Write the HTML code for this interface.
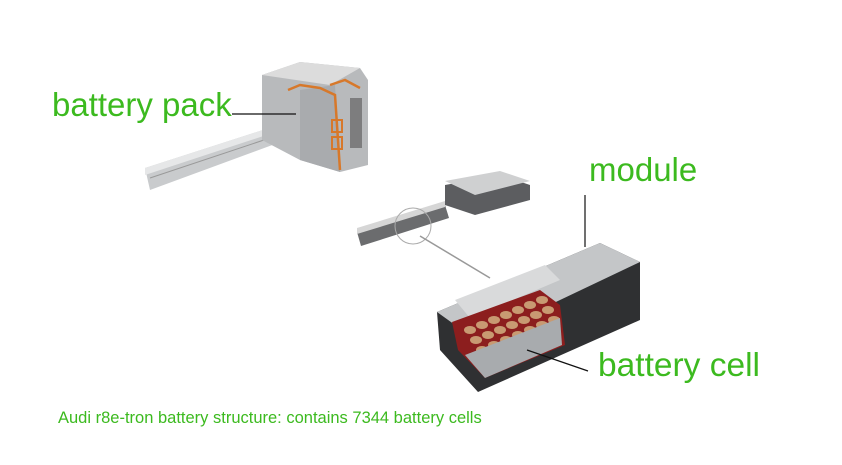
<!DOCTYPE html>
<html><head><style>
body{margin:0;background:#fff;width:842px;height:465px;overflow:hidden;position:relative;font-family:"Liberation Sans",sans-serif}
.t{position:absolute;color:#3cba1f;white-space:nowrap}
</style></head><body>
<svg width="842" height="465" style="position:absolute;left:0;top:0">
<polygon points="145,168 300,118 305,133 150,190" fill="#c9cbcd"/>
<polygon points="145,168 300,118 300,124 145,175" fill="#e6e7e8"/>
<line x1="150" y1="178" x2="300" y2="128" stroke="#999" stroke-width="1"/>
<polygon points="262,75 300,62 360,68 368,80 368,165 340,172 300,160 262,140" fill="#b8babc"/>
<polygon points="262,75 300,62 360,68 330,85" fill="#dcdcdc"/>
<polygon points="300,90 335,85 340,172 300,160" fill="#a9abae"/>
<polyline points="288,90 300,85 320,88 335,95 340,170" fill="none" stroke="#d7782a" stroke-width="2.5"/>
<polyline points="330,85 345,80 360,88" fill="none" stroke="#d7782a" stroke-width="2.5"/>
<rect x="332" y="120" width="10" height="12" fill="none" stroke="#d7782a" stroke-width="2"/>
<rect x="332" y="137" width="10" height="12" fill="none" stroke="#d7782a" stroke-width="2"/>
<rect x="350" y="98" width="12" height="50" fill="#555" opacity=".6"/>
<line x1="232" y1="114" x2="296" y2="114" stroke="#111" stroke-width="1.2"/>
<polygon points="357,232 445,205 449,218 361,246" fill="#6b6c6e"/>
<polygon points="357,228 445,201 445,207 357,234" fill="#d6d6d6"/>
<polygon points="445,185 500,175 530,185 530,200 475,215 445,205" fill="#5c5d60"/>
<polygon points="445,181 500,171 530,181 475,195" fill="#cfd0d1"/>
<circle cx="413" cy="226" r="18" fill="none" stroke="#aaa" stroke-width="1"/>
<line x1="420" y1="236" x2="490" y2="278" stroke="#999" stroke-width="1.5"/>
<polygon points="437,312 600,243 640,262 640,320 478,392 440,350" fill="#2f3032"/>
<polygon points="437,312 600,243 640,262 476,340" fill="#c4c6c8"/>
<polygon points="455,300 545,265 560,280 470,318" fill="#d9dadb"/>
<polygon points="452,322 540,290 560,305 565,345 485,378 458,350" fill="#8c1e1e"/>
<g fill="#c89a72">
<ellipse cx="470" cy="330" rx="6" ry="4"/><ellipse cx="482" cy="325" rx="6" ry="4"/><ellipse cx="494" cy="320" rx="6" ry="4"/><ellipse cx="506" cy="315" rx="6" ry="4"/><ellipse cx="518" cy="310" rx="6" ry="4"/><ellipse cx="530" cy="305" rx="6" ry="4"/><ellipse cx="542" cy="300" rx="6" ry="4"/>
<ellipse cx="476" cy="340" rx="6" ry="4"/><ellipse cx="488" cy="335" rx="6" ry="4"/><ellipse cx="500" cy="330" rx="6" ry="4"/><ellipse cx="512" cy="325" rx="6" ry="4"/><ellipse cx="524" cy="320" rx="6" ry="4"/><ellipse cx="536" cy="315" rx="6" ry="4"/><ellipse cx="548" cy="310" rx="6" ry="4"/>
<ellipse cx="482" cy="350" rx="6" ry="4"/><ellipse cx="494" cy="345" rx="6" ry="4"/><ellipse cx="506" cy="340" rx="6" ry="4"/><ellipse cx="518" cy="335" rx="6" ry="4"/><ellipse cx="530" cy="330" rx="6" ry="4"/><ellipse cx="542" cy="325" rx="6" ry="4"/><ellipse cx="554" cy="320" rx="6" ry="4"/>
</g>
<polygon points="465,355 560,318 562,345 485,378" fill="#a8abae"/>
<line x1="585" y1="195" x2="585" y2="247" stroke="#111" stroke-width="1.2"/>
<line x1="527" y1="350" x2="588" y2="371" stroke="#111" stroke-width="1.2"/>
</svg>
<div class="t" style="left:52px;top:86px;font-size:33px">battery pack</div>
<div class="t" style="left:589px;top:151px;font-size:33px">module</div>
<div class="t" style="left:598px;top:347px;font-size:33.5px">battery cell</div>
<div class="t" style="left:58px;top:409px;font-size:16.5px">Audi r8e-tron battery structure: contains 7344 battery cells</div>
</body></html>
